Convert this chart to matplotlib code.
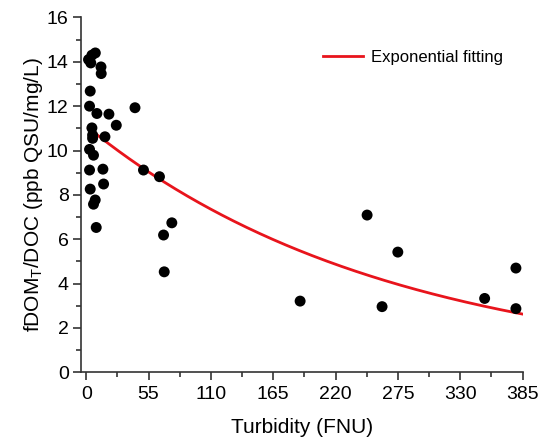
import numpy as np
import matplotlib
matplotlib.use("Agg")
import matplotlib.pyplot as plt
from matplotlib.ticker import MultipleLocator

plt.rcParams["font.family"] = ["Liberation Sans", "DejaVu Sans"]
plt.rcParams["mathtext.fontset"] = "custom"
plt.rcParams["mathtext.rm"] = "Liberation Sans"
plt.rcParams["mathtext.it"] = "Liberation Sans:italic"

# turbidity (FNU) vs fDOM_T/DOC
turbidity = [2, 5, 8, 4, 13, 13.2, 3.5, 2.9, 9.4, 20, 43, 26.5, 5, 5.6, 5.6, 16.5,
             2.9, 6.4, 2.9, 14.7, 50.5, 64.6, 15.3, 3.5, 7.9, 6.4, 8.8, 68.2, 75.5,
             68.8, 188.7, 247.8, 261, 274.9, 351.5, 379.1, 379.1]
fdom_doc = [14.1, 14.3, 14.4, 13.95, 13.77, 13.47, 12.68, 12.0, 11.67, 11.64, 11.93,
            11.14, 11.02, 10.7, 10.55, 10.62, 10.05, 9.79, 9.12, 9.16, 9.12, 8.82,
            8.49, 8.26, 7.77, 7.58, 6.53, 6.19, 6.74, 4.53, 3.21, 7.09, 2.96, 5.42,
            3.33, 4.70, 2.87]

# exponential fit y = A * exp(-x / t)
fit_a = 11.1
fit_t = 267.0
fit_x_range = (2, 385)

fig = plt.figure(figsize=(5.41, 4.48), dpi=100)
ax = fig.add_axes([0.15, 0.169, 0.816, 0.792])

xs = np.linspace(fit_x_range[0], fit_x_range[1], 300)
ax.plot(xs, fit_a * np.exp(-xs / fit_t), color="#e8141c", lw=2, label="Exponential fitting", zorder=2)
ax.scatter(turbidity, fdom_doc, s=62, color="black", edgecolors="none", zorder=3)

ax.set_xlim(-4.5, 385)
ax.set_ylim(0, 16)
ax.xaxis.set_major_locator(MultipleLocator(55))
ax.xaxis.set_minor_locator(MultipleLocator(27.5))
ax.yaxis.set_major_locator(MultipleLocator(2))
ax.yaxis.set_minor_locator(MultipleLocator(1))

for side in ["top", "right"]:
    ax.spines[side].set_visible(False)
for side in ["left", "bottom"]:
    ax.spines[side].set_linewidth(1.2)
    ax.spines[side].set_color("#333333")

ax.tick_params(which="major", direction="out", length=6, width=1.2, labelsize=14,
               colors="#333333", labelcolor="black", pad=3)
ax.tick_params(which="minor", direction="out", length=3.5, width=1.2, colors="#333333")
ax.tick_params(axis="x", which="major", pad=4)

ax.set_xlabel("Turbidity (FNU)", fontsize=15, labelpad=11)
ax.set_ylabel("fDOM$_\\mathrm{T}$/DOC (ppb QSU/mg/L)", fontsize=15, labelpad=1)

ax.legend(loc="center left", bbox_to_anchor=(0.5965, 0.871), bbox_transform=fig.transFigure,
          frameon=False, fontsize=12, borderpad=0, borderaxespad=0,
          handlelength=2.4, handletextpad=0.5)

fig.savefig("out.png", dpi=100)
